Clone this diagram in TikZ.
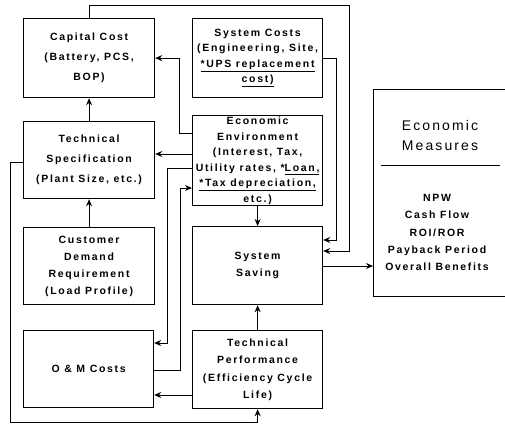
\documentclass[tikz,border=0pt]{standalone}
\usepackage{fontspec}
\setmainfont{Liberation Sans}[LetterSpace=16]
\newfontfamily\titlefont{Liberation Sans}[LetterSpace=15]
\usetikzlibrary{arrows.meta,calc}
\newcommand\bsf[1]{\bfseries\fontsize{10.5}{#1}\selectfont}
\begin{document}
\begin{tikzpicture}[x=1pt,y=-1pt,
  box/.style={draw, line width=1.2pt, inner sep=0pt, anchor=north west, align=center},
  arr/.style={line width=1pt, -{Stealth[length=7pt,width=6pt]}}]
\useasboundingbox (0,0) rectangle (505,424);
% left column
\node[box, minimum width=131pt, minimum height=79pt, font=\bsf{20}] (cap) at (23,18) {Capital Cost\\(Battery, PCS,\\BOP)};
\node[box, minimum width=131pt, minimum height=77pt, font=\bsf{20}] (spec) at (23,121) {Technical\\Specification\\(Plant Size, etc.)};
\node[box, minimum width=131pt, minimum height=77pt, font=\bsf{17}] (cust) at (23,227) {Customer\\Demand\\Requirement\\(Load Profile)};
\node[box, minimum width=130pt, minimum height=77pt, font=\bsf{17}] (om) at (23,330) {\raisebox{-3pt}[0pt][0pt]{O \& M Costs}};
% middle column
\node[box, minimum width=130pt, minimum height=79pt, font=\bsf{15.5}] (sysc) at (192,18) {System Costs\\(Engineering, Site,\\\underline{*UPS replacement}\\\underline{cost)}};
\node[box, minimum width=130pt, minimum height=90pt, font=\bsf{15.5}] (econ) at (192,115) {Economic\\Environment\\(Interest, Tax,\\Utility rates, *\underline{Loan,}\\\underline{*Tax depreciation,}\\etc.)};
\node[box, minimum width=130pt, minimum height=78pt, font=\bsf{16.5}] (sav) at (192,226) {System\\Saving};
\node[box, minimum width=130pt, minimum height=78pt, font=\bsf{17.5}] (perf) at (192,330) {Technical\\Performance\\(Efficiency Cycle\\Life)};
% right box (cut by the page edge)
\node[box, minimum width=140pt, minimum height=207pt] (meas) at (373,89) {};
\node[align=center, inner sep=0pt, font=\titlefont\fontsize{14}{20}\selectfont] (mtitle) at (440,135) {Economic\\Measures};
\node[align=center, inner sep=0pt, font=\bsf{17.3}] (mlist) at (437,232.5) {NPW\\Cash Flow\\ROI/ROR\\Payback Period\\Overall Benefits};
\draw[line width=0.6pt] ([xshift=8pt,yshift=-76pt]meas.north west) -- ++(119,0);
% connectors
\draw[arr] (spec.north) -- (cap.south);
\draw[arr] (cust.north) -- (spec.south);
\draw[arr] ([yshift=-18pt]econ.north west) -- ++(-13,0) |- (cap.east);
\coordinate (e1) at ([yshift=-39pt]econ.north west);
\draw[arr] (e1) -- (e1 -| spec.east);
\draw[arr] ([yshift=-53pt]econ.north west) -- ++(-25,0) |- ([yshift=-13pt]om.north east);
\draw[arr] ([yshift=-40pt]om.north east) -- ++(26,0) |- ([yshift=-73pt]econ.north west);
\draw[arr] (econ.south) -- (sav.north);
\draw[arr] (perf.north) -- (sav.south);
\coordinate (p1) at ([yshift=-65pt]perf.north west);
\draw[arr] (p1) -- (p1 -| om.east);
\draw[arr] ([yshift=-41pt]spec.north west) -- ++(-13,0) |- ([yshift=-13pt]perf.south) -- (perf.south);
\draw[arr] (sysc.east) -- ++(13,0) |- ([yshift=-14pt]sav.north east);
\draw[arr] (cap.north) -- ++(0,-13) -| ([xshift=26pt,yshift=-25pt]sav.north east) -- ([yshift=-25pt]sav.north east);
\coordinate (s2) at ([yshift=-40pt]sav.north east);
\draw[arr] (s2) -- (s2 -| meas.west);
\end{tikzpicture}
\end{document}
